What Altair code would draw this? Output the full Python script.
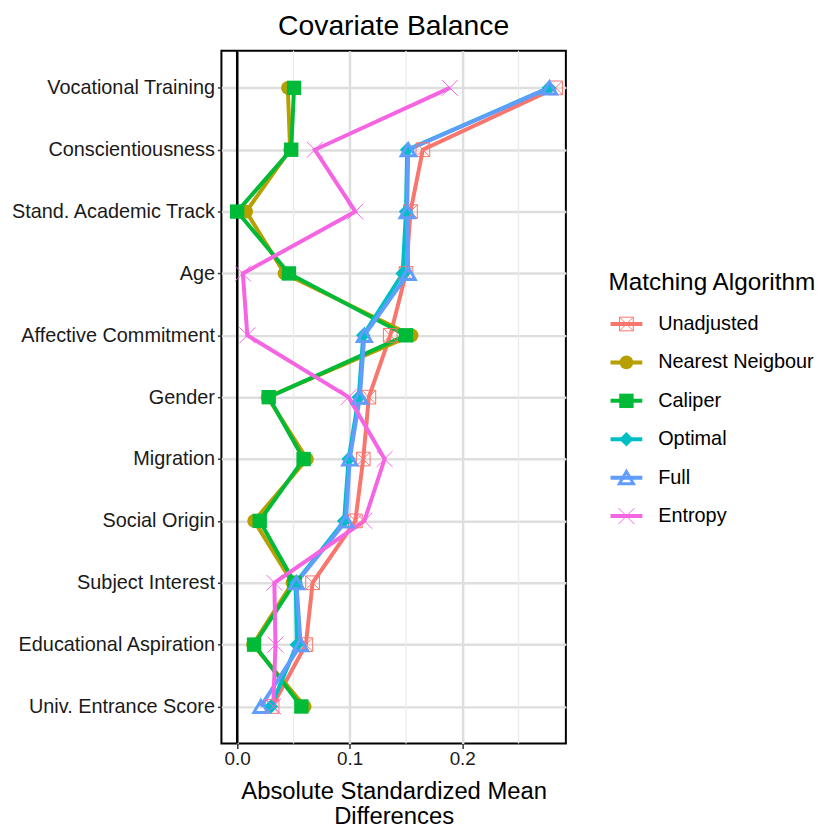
import altair as alt
import pandas as pd

covariates = [
    "Vocational Training", "Conscientiousness", "Stand. Academic Track", "Age",
    "Affective Commitment", "Gender", "Migration", "Social Origin",
    "Subject Interest", "Educational Aspiration", "Univ. Entrance Score",
]
algorithms = ["Unadjusted", "Nearest Neigbour", "Caliper", "Optimal", "Full", "Entropy"]
colors = ["#F8766D", "#B79F00", "#00BA38", "#00BFC4", "#619CFF", "#F564E3"]

unadjusted = [0.283, 0.165, 0.154, 0.150, 0.136, 0.117, 0.112, 0.105, 0.067, 0.061, 0.031]
nearest = [0.045, 0.047, 0.008, 0.042, 0.155, 0.027, 0.062, 0.015, 0.049, 0.014, 0.060]
caliper = [0.0505, 0.048, 0.000, 0.046, 0.150, 0.028, 0.059, 0.020, 0.051, 0.015, 0.057]
optimal = [0.277, 0.151, 0.150, 0.147, 0.112, 0.108, 0.099, 0.095, 0.052, 0.053, 0.030]
full = [0.2775, 0.152, 0.151, 0.152, 0.113, 0.109, 0.100, 0.0966, 0.0526, 0.0564, 0.021]
entropy = [0.189, 0.069, 0.105, 0.005, 0.009, 0.099, 0.131, 0.113, 0.033, 0.034, 0.032]

x_ticks = [0.0, 0.1, 0.2]
x_minor = [0.05, 0.15, 0.25]

series = dict(zip(algorithms, [unadjusted, nearest, caliper, optimal, full, entropy]))
rows = []
for a in algorithms:
    for i, c in enumerate(covariates):
        rows.append({"algorithm": a, "covariate": c, "smd": series[a][i], "idx": i})
df = pd.DataFrame(rows)

FONT = "Liberation Sans"
BOXX = "M-1,-1L1,-1L1,1L-1,1Z M-1,-1L1,1 M-1,1L1,-1"
XSHAPE = "M-1,-1L1,1 M-1,1L1,-1"
markers = {
    "Unadjusted": dict(shape=BOXX, filled=False, size=190, strokeWidth=1),
    "Nearest Neigbour": dict(shape="circle", filled=True, size=190),
    "Caliper": dict(shape="square", filled=True, size=210),
    "Optimal": dict(shape="diamond", filled=True, size=210),
    "Full": dict(shape="triangle-up", filled=False, size=200, strokeWidth=3),
    "Entropy": dict(shape=XSHAPE, filled=False, size=256, strokeWidth=1),
}
color_of = dict(zip(algorithms, colors))

PANEL_W = 347
PANEL_H = 698

x_scale = alt.Scale(domain=[-0.01404, 0.2921], nice=False, zero=False)
y_scale = alt.Scale(type="point", domain=covariates, padding=0.6)

x_axis = alt.Axis(
    values=x_ticks, format=".1f",
    title=["Absolute Standardized Mean", "Differences"],
    titleFont=FONT, titleFontSize=24, titleFontWeight="normal", titleColor="black",
    titleLineHeight=26, titlePadding=11,
    labelFont=FONT, labelFontSize=19, labelColor="#1a1a1a", labelPadding=1,
    tickColor="#333333", tickSize=5, tickWidth=1.5,
    grid=True, gridColor="#dedede", gridWidth=2.5, domain=False,
)
y_axis = alt.Axis(
    title=None, labelFont=FONT, labelFontSize=20, labelColor="#1a1a1a", labelPadding=3,
    labelLimit=500,
    tickColor="#333333", tickSize=4, tickWidth=1.5,
    grid=True, gridColor="#dedede", gridWidth=2.5, domain=False,
)

base = alt.Chart(df)

minor = alt.Chart(pd.DataFrame({"v": x_minor})).mark_rule(
    color="#ebebeb", strokeWidth=1.3
).encode(x=alt.X("v:Q", scale=x_scale, axis=x_axis))

zero_line = alt.Chart(pd.DataFrame({"v": [0.0]})).mark_rule(
    color="black", strokeWidth=2.5
).encode(x=alt.X("v:Q", scale=x_scale, axis=x_axis))

line_layers = []
for a in algorithms:
    line_layers.append(
        base.transform_filter(alt.datum.algorithm == a)
        .mark_line(color=color_of[a], strokeWidth=4)
        .encode(
            x=alt.X("smd:Q", scale=x_scale, axis=x_axis),
            y=alt.Y("covariate:N", scale=y_scale, axis=y_axis, sort=covariates),
            order=alt.Order("idx:Q"),
        )
    )

point_layers = []
for a in algorithms:
    m = markers[a]
    kw = dict(shape=m["shape"], filled=m["filled"], size=m["size"], color=color_of[a], opacity=1)
    if "strokeWidth" in m:
        kw["strokeWidth"] = m["strokeWidth"]
    point_layers.append(
        base.transform_filter(alt.datum.algorithm == a)
        .mark_point(**kw)
        .encode(
            x=alt.X("smd:Q", scale=x_scale, axis=x_axis),
            y=alt.Y("covariate:N", scale=y_scale, axis=y_axis, sort=covariates),
        )
    )

main = alt.layer(minor, zero_line, *line_layers, *point_layers).properties(
    width=PANEL_W, height=PANEL_H,
    title=alt.TitleParams(
        "Covariate Balance", font=FONT, fontSize=28.5, fontWeight="normal",
        color="black", anchor="middle", offset=9,
    ),
)

# ---- manual legend (line + symbol keys, like ggplot) ----
LEG_W = 200
KEY_STEP = 38.7
leg_df = pd.DataFrame({"algorithm": algorithms, "rank": list(range(len(algorithms)))})
leg_x = alt.Scale(domain=[0, LEG_W / 32], nice=False, zero=False)
top_units = 275.3 / KEY_STEP
leg_y = alt.Scale(domain=[-top_units, PANEL_H / KEY_STEP - top_units], nice=False, zero=False, reverse=True)
leg_color = alt.Scale(domain=algorithms, range=colors)

leg_rule = alt.Chart(leg_df).mark_rule(strokeWidth=4).encode(
    x=alt.X(datum=0, scale=leg_x, axis=None),
    x2=alt.X2(datum=1),
    y=alt.Y("rank:Q", scale=leg_y, axis=None),
    color=alt.Color("algorithm:N", scale=leg_color, legend=None),
)
leg_points = []
for a in algorithms:
    m = markers[a]
    kw = dict(shape=m["shape"], filled=m["filled"], size=m["size"], color=color_of[a], opacity=1)
    if "strokeWidth" in m:
        kw["strokeWidth"] = m["strokeWidth"]
    leg_points.append(
        alt.Chart(leg_df).transform_filter(alt.datum.algorithm == a).mark_point(**kw).encode(
            x=alt.X(datum=0.5, scale=leg_x, axis=None),
            y=alt.Y("rank:Q", scale=leg_y, axis=None),
        )
    )
leg_text = alt.Chart(leg_df).mark_text(
    align="left", baseline="middle", font=FONT, fontSize=20, color="black"
).encode(
    x=alt.X(datum=1.5, scale=leg_x, axis=None),
    y=alt.Y("rank:Q", scale=leg_y, axis=None),
    text="algorithm:N",
)
leg_title = alt.Chart(pd.DataFrame({"t": ["Matching Algorithm"]})).mark_text(
    align="left", baseline="middle", font=FONT, fontSize=24.5, color="black", dx=-2
).encode(
    x=alt.X(datum=0, scale=leg_x, axis=None),
    y=alt.Y(datum=-41.6 / KEY_STEP, scale=leg_y, axis=None),
    text="t:N",
)
legend = alt.layer(leg_rule, *leg_points, leg_text, leg_title).properties(
    width=LEG_W, height=PANEL_H,
    view=alt.ViewBackground(stroke="transparent"),
)

chart = alt.hconcat(main, legend, spacing=41).properties(
    padding={"left": 0, "top": 0, "right": 0, "bottom": 0},
    background="white",
).configure_view(stroke="black", strokeWidth=2).configure_concat(spacing=41)

chart.save("out.html", embed_options={"renderer": "svg", "actions": False})
